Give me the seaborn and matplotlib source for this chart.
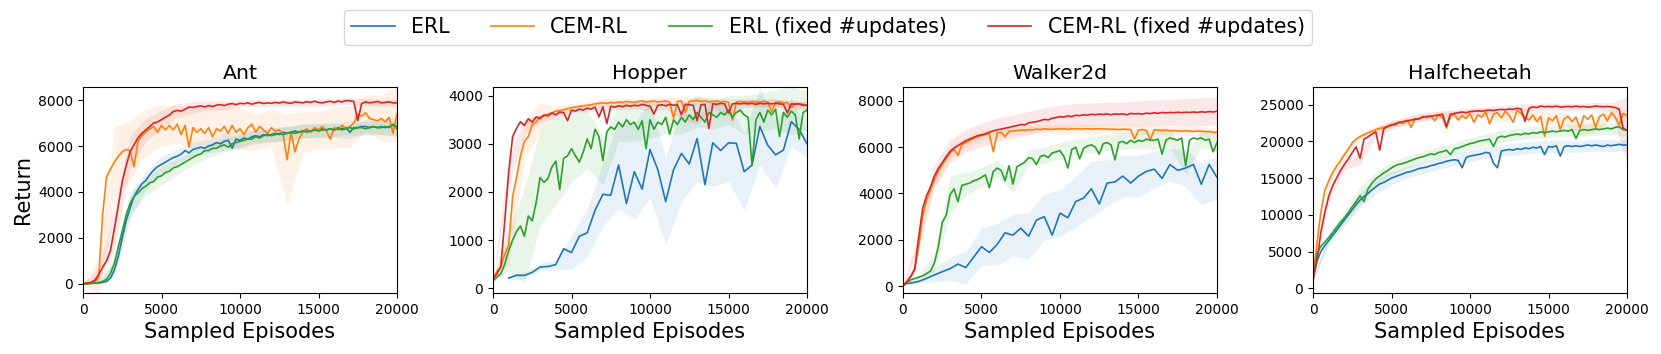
import numpy as np
import pandas as pd
import matplotlib
matplotlib.use("Agg")
import matplotlib.pyplot as plt
import seaborn as sns

# ---------------- data ----------------
methods = ["ERL", "CEM-RL", "ERL (fixed #updates)", "CEM-RL (fixed #updates)"]
colors = ["#1f77b4", "#ff7f0e", "#2ca02c", "#d62728"]
envs = ["Ant", "Hopper", "Walker2d", "Halfcheetah"]
x_ticks = [0, 5000, 10000, 15000, 20000]

# evaluation grid (sampled episodes)
ep_250 = list(range(0, 20001, 250))
ep_500 = list(range(0, 20001, 500))
ep_500_from1k = list(range(1000, 20001, 500))

# ---- Ant ----
ant_erl = [0, 10, 20, 30, 40, 60, 100, 250, 600, 1200,
           2000, 2750, 3300, 3800, 4100, 4350, 4500, 4750, 4950, 5100,
           5200, 5300, 5400, 5500, 5550, 5650, 5800, 5700, 5850, 5900,
           5950, 5900, 6000, 6050, 6150, 6100, 6200, 6250, 5900, 6300,
           6250, 6350, 6300, 6400, 6450, 6400, 6500, 6450, 6500, 6550,
           6500, 6600, 6550, 6600, 6650, 6600, 6650, 6700, 6650, 6700,
           6700, 6750, 6700, 6750, 6700, 6800, 6750, 6800, 6600, 6800,
           6800, 6850, 6850, 6800, 6850, 6800, 6850, 6800, 6850, 6900,
           6850]
ant_cem = [0, 20, 30, 60, 300, 3000, 4650, 5000, 5300, 5550,
           5750, 5850, 5800, 5100, 6200, 6450, 6600, 6750, 6850, 6600,
           6900, 6700, 6900, 6700, 6950, 6500, 6900, 5950, 6800, 6600,
           6750, 6550, 6800, 6400, 6750, 6650, 6850, 6550, 6900, 6600,
           6750, 6500, 6800, 6950, 6600, 6850, 6700, 6550, 6800, 6650,
           6700, 6500, 5400, 6600, 5750, 6300, 6600, 6750, 6600, 6800,
           6700, 6850, 6650, 6300, 6800, 6700, 6900, 6750, 6850, 7000,
           7400, 7300, 7450, 7200, 7150, 7100, 7200, 7050, 7250, 6550,
           7400]
ant_erl_fix = [0, 10, 20, 40, 60, 100, 200, 450, 900, 1600,
               2300, 3000, 3500, 3800, 3950, 4150, 4250, 4400, 4450, 4650,
               4700, 4850, 4900, 5050, 5100, 5200, 5300, 5400, 5500, 5600,
               5650, 5800, 5800, 5900, 5900, 6000, 6050, 5950, 6100, 6150,
               6200, 6250, 6300, 6300, 6400, 6350, 6450, 6500, 6450, 6500,
               6550, 6500, 6550, 6600, 6550, 6600, 6650, 6600, 6650, 6700,
               6650, 6700, 6700, 6750, 6700, 6750, 6700, 6750, 6800, 6750,
               6800, 6800, 6750, 6800, 6850, 6800, 6800, 6850, 6800, 6950,
               6750]
ant_cem_fix = [0, 30, 60, 150, 400, 720, 1000, 1450, 2400, 3400,
               4450, 5150, 5750, 6050, 6350, 6550, 6700, 6850, 7000, 7050,
               7150, 7250, 7350, 7500, 7550, 7520, 7600, 7700, 7680, 7720,
               7750, 7700, 7760, 7720, 7780, 7800, 7760, 7820, 7850, 7800,
               7860, 7840, 7880, 7820, 7870, 7900, 7850, 7880, 7860, 7900,
               7870, 7920, 7880, 7860, 7920, 7900, 7880, 7930, 7900, 7950,
               7900, 7880, 7920, 7950, 7900, 7960, 7920, 7980, 7970, 7940,
               7100, 7850, 7920, 7880, 7900, 7940, 7880, 7900, 7920, 7880,
               7880]
# spread of the shaded band every 1000 episodes
ant_erl_sd = [20, 50, 300, 500, 400, 350, 300, 300, 300, 400, 300,
              300, 300, 300, 300, 300, 300, 300, 300, 350, 400]
ant_cem_sd = [20, 800, 1500, 1300, 1000, 900, 800, 900, 900, 900, 900,
              800, 800, 2000, 900, 800, 900, 900, 800, 1000, 1200]
ant_erl_fix_sd = [20, 50, 300, 500, 400, 400, 350, 300, 300, 300, 300,
                  300, 300, 300, 300, 300, 300, 300, 300, 300, 350]
ant_cem_fix_sd = [20, 300, 900, 700, 500, 400, 300, 250, 200, 200, 150,
                  150, 150, 150, 150, 150, 150, 150, 150, 150, 150]

# ---- Hopper ----
hop_erl = [210, 270, 265, 330, 440, 450, 490, 820, 740, 1080,
           1150, 1620, 1950, 1930, 2560, 1760, 2420, 2060, 2880, 2460,
           1800, 2460, 2800, 2580, 3110, 2150, 3020, 2860, 3020, 3010,
           2420, 2560, 3360, 2970, 2770, 2870, 3460, 3300, 3000]
hop_cem = [200, 350, 450, 700, 900, 1900, 2300, 2750, 3050, 3150,
           3400, 3450, 3560, 3580, 3620, 3640, 3680, 3690, 3710, 3730,
           3750, 3760, 3780, 3790, 3800, 3810, 3830, 3840, 3850, 3840,
           3860, 3850, 3870, 3860, 3880, 3870, 3860, 3880, 3890, 3870,
           3880, 3890, 3870, 3880, 3890, 3870, 3530, 3880, 3890, 3650,
           3880, 3890, 3900, 3880, 3890, 3870, 3880, 3890, 3870, 3880,
           3860, 3490, 3870, 3880, 3870, 3860, 3880, 3870, 3860, 3880,
           3870, 3670, 3860, 3870, 3850, 3860, 3750, 3840, 3830, 3820,
           3800]
hop_erl_fix = [150, 230, 300, 500, 780, 1000, 1180, 1290, 1080, 1500,
               1400, 1780, 2300, 2200, 2280, 2520, 2640, 2050, 2700, 2750,
               2900, 2750, 2620, 2830, 3100, 2900, 3300, 3150, 2650, 3250,
               3350, 3300, 3450, 3350, 3500, 3400, 3450, 3300, 3480, 2900,
               3500, 3300, 3450, 3400, 3550, 3200, 3500, 3400, 3550, 3450,
               3600, 3500, 3650, 3550, 3450, 3650, 3600, 3550, 3650, 3600,
               3700, 3550, 3650, 3700, 3600, 3550, 2550, 3500, 3650, 3450,
               3700, 3600, 3720, 3150, 3650, 3550, 3680, 3600, 3100, 3650,
               3700]
hop_cem_fix = [200, 300, 450, 1400, 2400, 3150, 3320, 3460, 3380, 3520,
               3450, 3560, 3520, 3600, 3580, 3640, 3600, 3660, 3650, 3480,
               3700, 3680, 3720, 3700, 3740, 3720, 3760, 3560, 3770, 3420,
               3780, 3760, 3790, 3770, 3800, 3780, 3800, 3790, 3820, 3800,
               3780, 3620, 3800, 3810, 3790, 3820, 3800, 3810, 3600, 3820,
               3810, 3800, 3480, 3810, 3820, 3320, 3830, 3820, 3840, 3830,
               3640, 3830, 3840, 3830, 3840, 3830, 3840, 3820, 3840, 3830,
               3840, 3830, 3840, 3830, 3820, 3640, 3830, 3820, 3830, 3800,
               3800]
hop_erl_sd = [60, 60, 80, 100, 350, 500, 650, 900, 1000, 1000,
              900, 1000, 900, 900, 800, 800, 800, 700, 500, 300]
hop_cem_sd = [30, 400, 400, 300, 100, 80, 80, 80, 80, 80, 80,
              80, 80, 80, 80, 80, 80, 80, 80, 80, 80]
hop_erl_fix_sd = [50, 400, 1000, 1000, 900, 700, 600, 500, 400, 400, 400,
                  350, 350, 300, 300, 300, 400, 400, 400, 500, 400]
hop_cem_fix_sd = [30, 300, 150, 80, 80, 80, 80, 80, 80, 80, 80,
                  80, 80, 80, 80, 80, 80, 80, 80, 80, 80]

# ---- Walker2d ----
wal_erl = [100, 130, 200, 330, 480, 620, 750, 950, 800, 1250,
           1700, 1450, 1800, 2300, 2200, 2500, 2150, 2850, 3000, 2200,
           3150, 2950, 3650, 3800, 4200, 3550, 4450, 4500, 4750, 4450,
           4750, 4950, 5050, 4650, 5250, 5000, 5100, 5250, 4400, 5250,
           4700]
wal_cem = [0, 180, 400, 700, 1700, 3000, 3700, 4150, 4600, 4950,
           5250, 5500, 5750, 5900, 5650, 6100, 6200, 6300, 6380, 6450,
           6500, 6550, 6580, 5800, 6620, 6650, 6450, 6680, 6700, 6720,
           6740, 6730, 6760, 6750, 6780, 6760, 6790, 6780, 6770, 6790,
           6780, 6800, 6770, 6790, 6800, 6780, 6790, 6800, 6780, 6790,
           6800, 6780, 6790, 6770, 6780, 6760, 6780, 6770, 6760, 6350,
           6740, 6760, 6730, 6320, 6750, 6740, 6720, 6740, 6700, 6720,
           6700, 6690, 6710, 6700, 6680, 6700, 6690, 6670, 6680, 6650,
           6640]
wal_erl_fix = [0, 150, 270, 330, 380, 440, 540, 650, 1000, 1700,
               2750, 3050, 3950, 4200, 3650, 4350, 4400, 4450, 4550, 4600,
               4700, 4800, 4250, 4950, 5100, 5000, 4550, 5200, 4400, 5150,
               5250, 5350, 5550, 5500, 5250, 5600, 5650, 5550, 5750, 5800,
               5850, 5600, 5100, 5900, 6000, 5500, 5950, 6050, 6100, 6000,
               5700, 6150, 6200, 6100, 5450, 6200, 6250, 6150, 6300, 6200,
               6300, 6250, 6350, 6300, 6300, 6350, 5700, 6300, 6400, 6350,
               6300, 6400, 5200, 6300, 6400, 6350, 6400, 6300, 6350, 5800,
               6200]
wal_cem_fix = [0, 200, 430, 760, 2100, 3350, 3900, 4280, 4750, 5080,
               5330, 5580, 5820, 5960, 6070, 6170, 6280, 6350, 6420, 6500,
               6530, 6580, 6650, 6700, 6750, 6780, 6820, 6850, 6900, 6930,
               6980, 6960, 7050, 7080, 7100, 7150, 7200, 7180, 7250, 7280,
               7320, 7300, 7350, 7320, 7380, 7360, 7400, 7380, 7420, 7400,
               7430, 7410, 7440, 7400, 7440, 7420, 7440, 7400, 7460, 7440,
               7450, 7430, 7470, 7450, 7490, 7460, 7500, 7480, 7500, 7490,
               7510, 7490, 7510, 7500, 7520, 7500, 7530, 7510, 7540, 7520,
               7550]
wal_erl_sd = [20, 80, 300, 500, 700, 800, 900, 900, 1000, 1000, 1000,
              1100, 1200, 1000, 900, 900, 800, 700, 800, 900, 900]
wal_cem_sd = [20, 200, 300, 300, 250, 250, 200, 200, 200, 200, 200,
              200, 200, 200, 200, 200, 200, 200, 200, 200, 200]
wal_erl_fix_sd = [20, 100, 400, 800, 500, 400, 350, 350, 350, 350, 350,
                  350, 350, 350, 350, 350, 400, 400, 400, 400, 400]
wal_cem_fix_sd = [20, 300, 500, 500, 500, 500, 500, 500, 500, 500, 500,
                  500, 500, 500, 500, 550, 550, 550, 600, 600, 600]

# ---- Halfcheetah ----
hc_erl = [1300, 3700, 5000, 5800, 6500, 7200, 7900, 8600, 9300, 10000,
          10700, 11400, 12000, 12500, 12900, 13400, 13800, 14200, 14400, 14700,
          15000, 15200, 15400, 15600, 15800, 15900, 16100, 16300, 16400, 16500,
          16700, 16800, 17000, 17100, 17300, 17400, 17500, 17400, 16400, 17800,
          18000, 18100, 18200, 18300, 18500, 18400, 17000, 16400, 18700, 18800,
          18900, 18800, 19000, 18900, 19100, 19000, 19200, 19100, 19300, 18200,
          19300, 19200, 19400, 18000, 19300, 19400, 19300, 19400, 19300, 19400,
          19500, 19400, 19500, 19400, 19300, 19500, 19400, 19500, 19600, 19500,
          19500]
hc_cem = [1400, 6100, 10300, 13300, 14600, 15750, 16600, 17350, 18200, 18950,
          19800, 20300, 20650, 20900, 21150, 21400, 21600, 21750, 21900, 22100,
          22300, 22200, 22600, 22400, 22900, 21900, 23100, 23000, 23400, 23200,
          23500, 22800, 23600, 23200, 21800, 23400, 23700, 22900, 23500, 23100,
          23800, 22600, 23600, 23300, 24000, 22400, 23700, 23900, 23200, 24100,
          23500, 22600, 24200, 23800, 23300, 22900, 23600, 22700, 23400, 20700,
          23200, 22800, 23500, 21600, 23100, 23400, 22700, 23300, 21800, 23500,
          23000, 23600, 21900, 23400, 23700, 22800, 23900, 23300, 22200, 23800,
          23500]
hc_erl_fix = [1000, 4700, 5700, 6300, 6900, 7600, 8300, 9000, 9600, 10300,
              11100, 11800, 12600, 11800, 13500, 14300, 14900, 15300, 15700, 16000,
              16400, 16700, 16900, 17000, 17200, 17400, 17600, 17800, 17900, 18100,
              18300, 18200, 18500, 18600, 18800, 18200, 19000, 19100, 19300, 19500,
              19700, 19800, 20000, 20100, 20200, 20300, 19300, 20500, 20700, 20600,
              20800, 20900, 21000, 20900, 21100, 21000, 21200, 21100, 21300, 21200,
              21300, 21400, 21300, 21400, 21500, 21400, 21600, 20400, 21500, 21600,
              21500, 21600, 21700, 21600, 21700, 21800, 21700, 21900, 22000, 21600,
              21500]
hc_cem_fix = [1300, 3700, 7600, 10300, 12500, 13950, 15000, 16000, 16850, 17600,
              18450, 19250, 17700, 20300, 20600, 21000, 21300, 18800, 21700, 22000,
              22200, 22400, 22600, 22700, 22800, 22900, 23000, 23100, 23300, 23400,
              23400, 23500, 23600, 23700, 22000, 23700, 23800, 23900, 24000, 23900,
              24050, 24100, 24150, 24100, 24200, 24250, 24200, 24300, 24350, 24300,
              24400, 24350, 24500, 24400, 22700, 24500, 24700, 24600, 24800, 24700,
              24750, 24700, 24800, 24650, 24700, 24750, 24700, 24800, 24700, 24750,
              24650, 24700, 24800, 24750, 24700, 24750, 24700, 24600, 24400, 21800,
              21500]
hc_erl_sd = [200, 600, 800, 1000, 1000, 900, 800, 800, 800, 800, 800,
             800, 800, 800, 800, 800, 800, 800, 800, 800, 800]
hc_cem_sd = [200, 800, 700, 600, 500, 500, 500, 500, 500, 500, 600,
             600, 600, 600, 800, 800, 800, 800, 800, 800, 800]
hc_erl_fix_sd = [200, 600, 900, 1200, 1000, 900, 800, 800, 800, 800, 800,
                 800, 800, 800, 800, 800, 800, 800, 800, 800, 800]
hc_cem_fix_sd = [200, 800, 700, 800, 700, 600, 500, 500, 500, 500, 500,
                 500, 500, 500, 500, 500, 500, 500, 500, 600, 4500]

y_limits = [(-400, 8570), (-100, 4180), (-300, 8600), (-640, 27400)]
y_ticks = [[0, 2000, 4000, 6000, 8000], [0, 1000, 2000, 3000, 4000],
           [0, 2000, 4000, 6000, 8000], [0, 5000, 10000, 15000, 20000, 25000]]

panels = [
    [(ep_250, ant_erl, ant_erl_sd, 4), (ep_250, ant_cem, ant_cem_sd, 4),
     (ep_250, ant_erl_fix, ant_erl_fix_sd, 4), (ep_250, ant_cem_fix, ant_cem_fix_sd, 4)],
    [(ep_500_from1k, hop_erl, hop_erl_sd, 2), (ep_250, hop_cem, hop_cem_sd, 4),
     (ep_250, hop_erl_fix, hop_erl_fix_sd, 4), (ep_250, hop_cem_fix, hop_cem_fix_sd, 4)],
    [(ep_500, wal_erl, wal_erl_sd, 2), (ep_250, wal_cem, wal_cem_sd, 4),
     (ep_250, wal_erl_fix, wal_erl_fix_sd, 4), (ep_250, wal_cem_fix, wal_cem_fix_sd, 4)],
    [(ep_250, hc_erl, hc_erl_sd, 4), (ep_250, hc_cem, hc_cem_sd, 4),
     (ep_250, hc_erl_fix, hc_erl_fix_sd, 4), (ep_250, hc_cem_fix, hc_cem_fix_sd, 4)],
]

# ---------------- figure ----------------
fig = plt.figure(figsize=(16.61, 3.54), dpi=100)
lefts = [83, 493, 903, 1313]
W, H = 1661, 354
axes = []
for k, env in enumerate(envs):
    ax = fig.add_axes([lefts[k] / W, 1 - 293 / H, 314 / W, 206 / H])
    axes.append(ax)
    for m, (xs, ys, sd, stride) in enumerate(panels[k]):
        df = pd.DataFrame({"Sampled Episodes": xs, "Return": ys})
        sns.lineplot(data=df, x="Sampled Episodes", y="Return", ax=ax,
                     color=colors[m], linewidth=1.2, label=methods[m],
                     legend=False)
        xb = np.array(xs[::stride])
        yb = np.array(ys[::stride])
        sdb = np.array(sd)
        ax.fill_between(xb, yb - sdb, yb + sdb, color=colors[m],
                        alpha=0.1, linewidth=0)
    ax.set_xlim(0, 20000)
    ax.set_ylim(*y_limits[k])
    ax.set_xticks(x_ticks)
    ax.set_yticks(y_ticks[k])
    ax.tick_params(labelsize=10)
    ax.set_title(env, fontsize=14.7)
    ax.set_xlabel("Sampled Episodes", fontsize=15)
    if k == 0:
        ax.set_ylabel("Return", fontsize=15)
    else:
        ax.set_ylabel("")

handles = axes[0].get_lines()[:4]
fig.legend(handles, methods, loc="upper center", bbox_to_anchor=(0.4985, 1.0),
           ncol=4, fontsize=14.8, columnspacing=2.0, handlelength=2.1,
           handletextpad=0.8, borderpad=0.35)

fig.savefig("out.png", dpi=100)
